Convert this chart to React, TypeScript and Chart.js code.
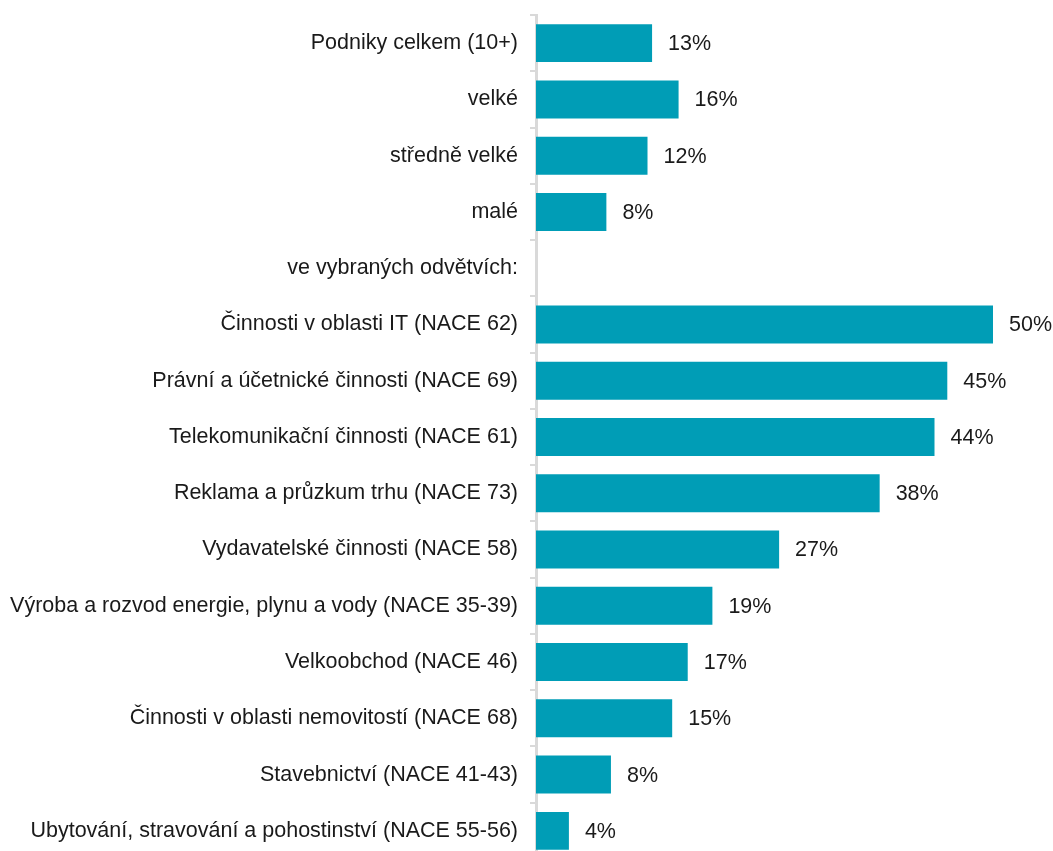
import React, { useEffect, useRef } from "react";
import { Chart, registerables } from "chart.js";

Chart.register(...registerables);

const categories: string[] = [
  "Podniky celkem (10+)",
  "velké",
  "středně velké",
  "malé",
  "ve vybraných odvětvích:",
  "Činnosti v oblasti IT (NACE 62)",
  "Právní a účetnické činnosti (NACE 69)",
  "Telekomunikační činnosti (NACE 61)",
  "Reklama a průzkum trhu (NACE 73)",
  "Vydavatelské činnosti (NACE 58)",
  "Výroba a rozvod energie, plynu a vody (NACE 35-39)",
  "Velkoobchod (NACE 46)",
  "Činnosti v oblasti nemovitostí (NACE 68)",
  "Stavebnictví (NACE 41-43)",
  "Ubytování, stravování a pohostinství (NACE 55-56)",
];

const values: (number | null)[] = [
  12.7, 15.6, 12.2, 7.7, null, 50.0, 45.0, 43.6, 37.6, 26.6, 19.3, 16.6, 14.9, 8.2, 3.6,
];

const valueLabels: string[] = [
  "13%", "16%", "12%", "8%", "", "50%", "45%", "44%", "38%", "27%", "19%", "17%", "15%", "8%", "4%",
];

const FONT = "'Liberation Sans', Arial, sans-serif";

const valueLabelPlugin = {
  id: "valueLabels",
  afterDatasetsDraw(chart: any) {
    const ctx = chart.ctx;
    const meta = chart.getDatasetMeta(0);
    ctx.save();
    ctx.font = `21.5px ${FONT}`;
    ctx.fillStyle = "#1a1a1a";
    ctx.textAlign = "left";
    ctx.textBaseline = "middle";
    meta.data.forEach((el: any, i: number) => {
      if (values[i] == null) return;
      ctx.fillText(valueLabels[i], el.x + 16, el.y + 1);
    });
    ctx.restore();
  },
};

export default function App() {
  const ref = useRef<HTMLCanvasElement>(null);
  useEffect(() => {
    if (!ref.current) return;
    const chart = new Chart(ref.current, {
      type: "bar",
      data: {
        labels: categories,
        datasets: [
          {
            data: values,
            backgroundColor: "#009db6",
            barPercentage: 0.675,
            categoryPercentage: 1,
          },
        ],
      },
      options: {
        indexAxis: "y",
        responsive: false,
        animation: false,
        layout: { padding: { top: 15, bottom: 7, right: 60, left: 0 } },
        plugins: {
          legend: { display: false },
          tooltip: { enabled: false },
        },
        scales: {
          x: { display: false, min: 0, max: 50 },
          y: {
            afterFit: (s: any) => {
              s.width = 536;
              s.paddingTop = 0;
              s.paddingBottom = 0;
            },
            grid: {
              offset: true,
              drawOnChartArea: false,
              drawTicks: true,
              tickLength: 6,
              color: "#d9d9d9",
              lineWidth: 2,
            },
            border: { display: true, color: "#d9d9d9", width: 3 },
            ticks: {
              padding: 12,
              color: "#1a1a1a",
              font: { size: 21.5, family: FONT },
              autoSkip: false,
            },
          },
        },
      },
      plugins: [valueLabelPlugin],
    });
    return () => chart.destroy();
  }, []);
  return (
    <div style={{ position: "fixed", top: 0, left: 0, width: 1053, height: 851, overflow: "hidden", background: "#fff" }}>
      <canvas ref={ref} width={1053} height={866} style={{ display: "block" }} />
    </div>
  );
}
